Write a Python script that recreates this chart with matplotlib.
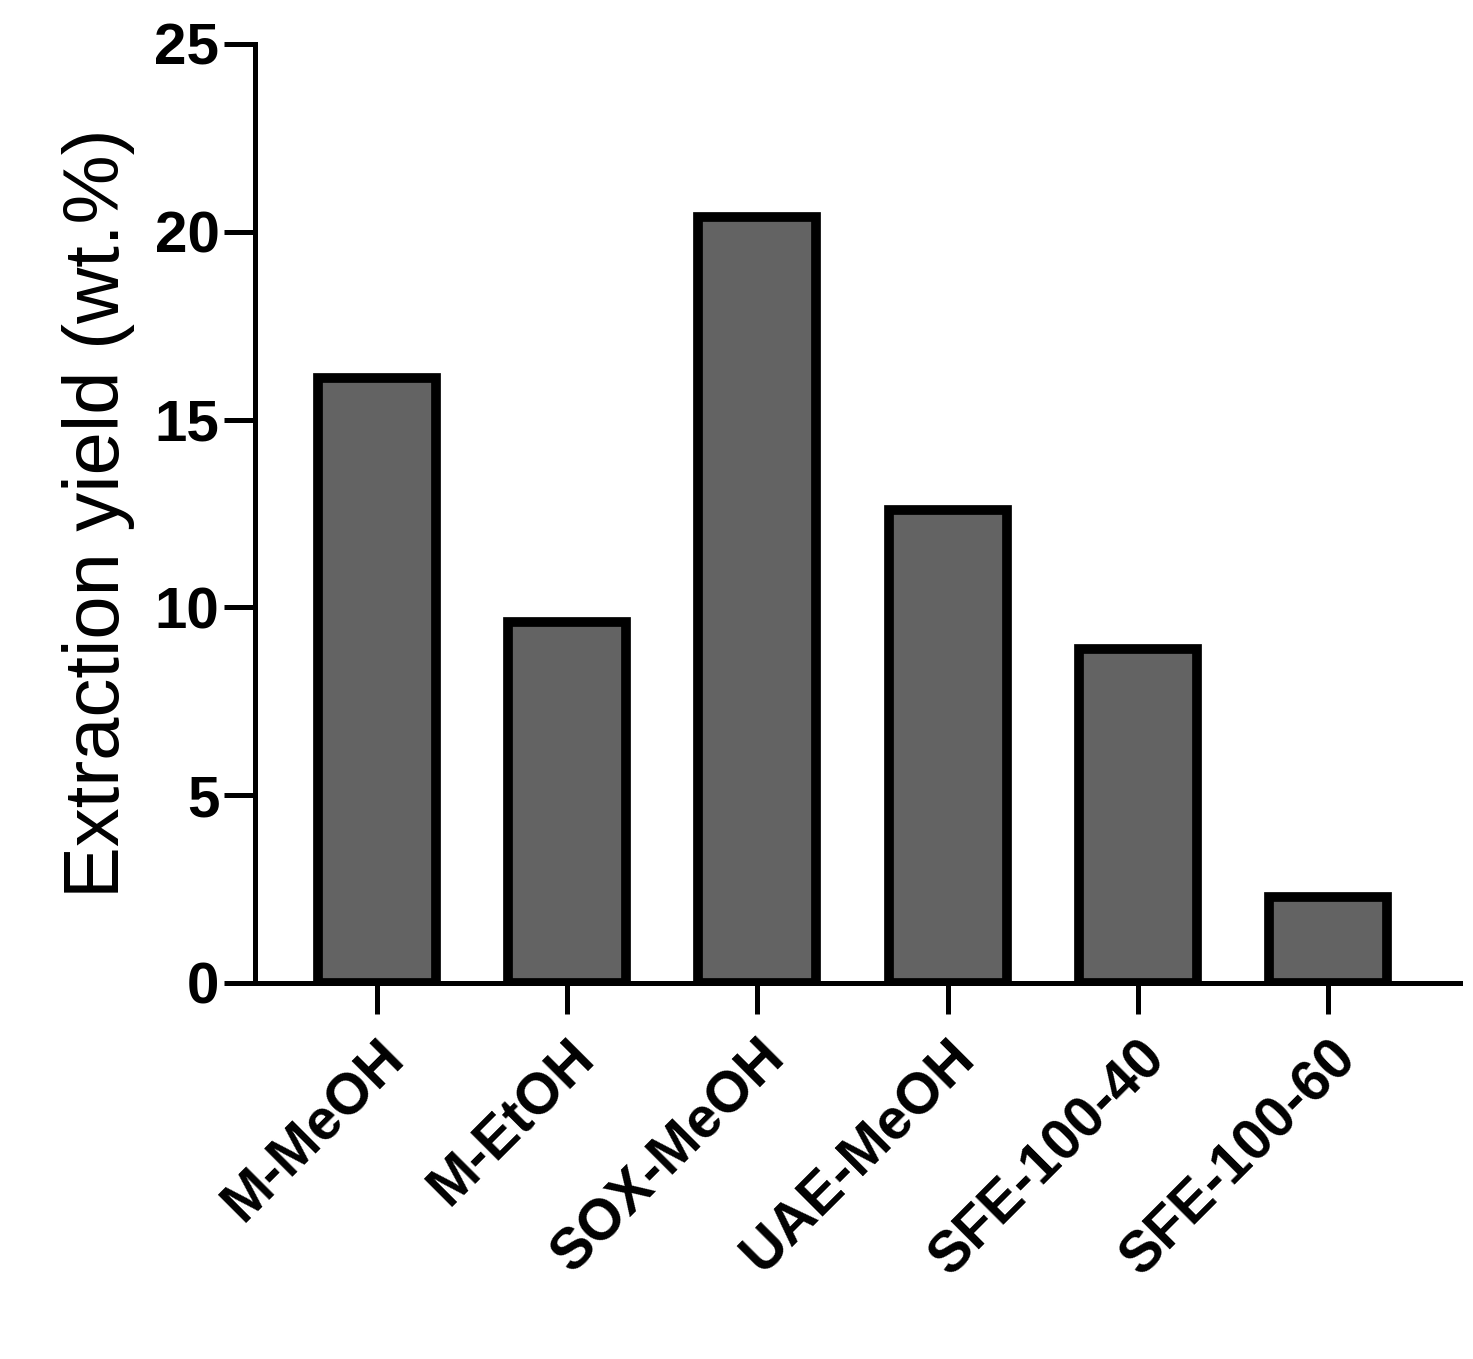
import matplotlib
matplotlib.use("Agg")
import matplotlib.pyplot as plt

categories = ["M-MeOH", "M-EtOH", "SOX-MeOH", "UAE-MeOH", "SFE-100-40", "SFE-100-60"]
values = [16.1, 9.6, 20.4, 12.6, 8.9, 2.3]
yticks = [0, 5, 10, 15, 20, 25]

plt.rcParams['font.family'] = ['Liberation Sans', 'DejaVu Sans']
fig = plt.figure(figsize=(14.73, 13.59), dpi=100)
ax = fig.add_axes([0.173, 0.2767, 0.818, 0.691])
x = range(len(categories))
ax.bar(x, values, width=0.62, color="#636363", edgecolor="black", linewidth=7, zorder=3)
ax.set_xlim(-0.64, 5.69)
ax.set_ylim(0, 25)
ax.set_yticks(yticks)
ax.set_yticklabels([str(t) for t in yticks], fontsize=42, fontweight="bold")
ax.set_xticks(list(x))
ax.set_xticklabels(categories, rotation=45, ha="right", rotation_mode="anchor", fontsize=41, fontweight="bold")
ax.set_ylabel("Extraction yield (wt.%)", fontsize=56, labelpad=14)
for s in ["top", "right"]:
    ax.spines[s].set_visible(False)
for s in ["left", "bottom"]:
    ax.spines[s].set_linewidth(3.6)
ax.tick_params(axis="both", width=3.6, length=22, direction="out")
ax.tick_params(axis="x", pad=12)
fig.savefig("out.png", dpi=100)
